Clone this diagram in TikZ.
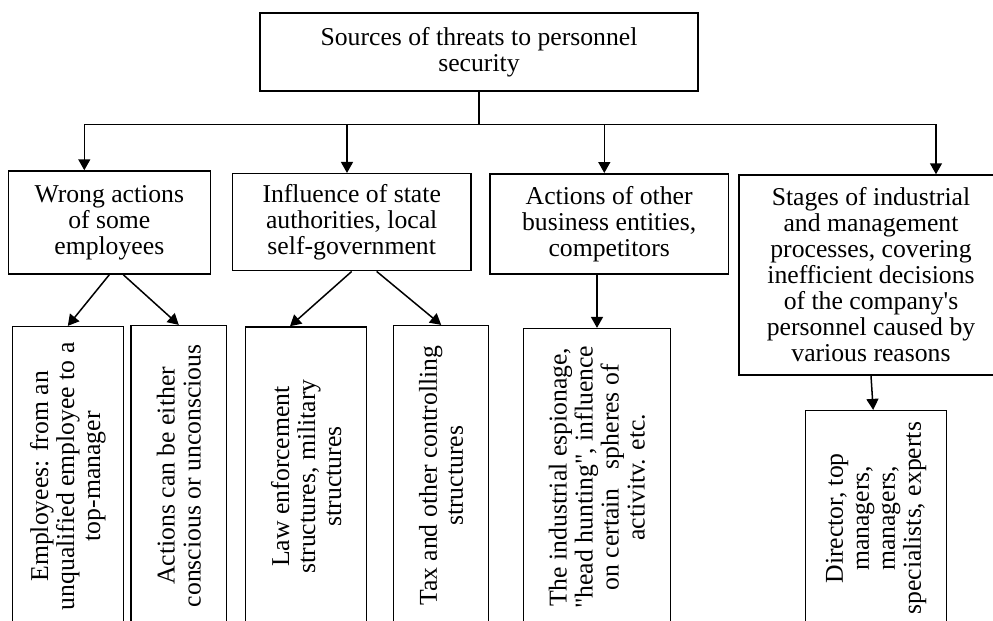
\documentclass[tikz,border=0pt]{standalone}
\usepackage{fontspec}
\setmainfont{Liberation Serif}[Ligatures=TeXOff]
\usetikzlibrary{arrows.meta,positioning}

\begin{document}
\begin{tikzpicture}[x=0.5pt, y=-0.5pt, line width=0.75pt, >={Triangle[length=5.5pt,width=6pt]},
    box/.style={rectangle, draw, align=center, inner sep=0pt, font=\fontsize{12.85}{13}\selectfont},
    vbox/.style={box, rotate=90}]
            \useasboundingbox (0,0) rectangle (993,621);
            \clip (0,0) rectangle (993,621);

            \node[box, minimum width=219pt, minimum height=39pt] (src) at (479,52) {Sources of threats to personnel\\security};

            \node[box, minimum width=101pt, minimum height=51.5pt] (wrong) at (109.3,222.5) {Wrong actions\\of some\\employees};
            \node[box, minimum width=119.35pt, minimum height=48.5pt] (state) at (351.7,222.2) {Influence of state\\authorities, local\\self-government};
            \node[box, minimum width=119.15pt, minimum height=50.15pt] (rivals) at (609.2,223.9) {Actions of other\\business entities,\\competitors};
            \node[box, minimum width=131.85pt, minimum height=100pt] (stages) at (871,275) {Stages of industrial\\and management\\processes, covering\\inefficient decisions\\of the company's\\personnel caused by\\various reasons};

            \node[vbox, minimum width=149.65pt, minimum height=55.5pt] (staff) at (67.8,476.3) {Employees: from an\\unqualified employee to a\\top-manager};
            \node[vbox, minimum width=150.15pt, minimum height=47.85pt] (acts) at (178.8,475.8) {Actions can be either\\conscious or unconscious};
            \node[vbox, minimum width=149.5pt, minimum height=60.5pt] (law) at (306.2,476.5) {Law enforcement\\structures, military\\structures};
            \node[vbox, minimum width=150.15pt, minimum height=47.5pt] (tax) at (441.2,475.8) {Tax and other controlling\\structures};
            \node[vbox, minimum width=148.65pt, minimum height=73.3pt] (spy) at (597,477.3) {The industrial espionage,\\"head hunting", influence\\on certain\ \ \ spheres of\\activitv. etc.};
            \node[vbox, minimum width=107.65pt, minimum height=70.5pt] (heads) at (876.2,518.3) {Director, top\\managers,\\managers,\\specialists, experts};

            \coordinate (busA) at (84.3,124.3);
            \coordinate (busB) at (347,124.3);
            \coordinate (busC) at (604.3,124.3);
            \coordinate (busD) at (936,124.3);

            \draw (src.south) -- (src.south |- busA);
            \draw (busA) -- (busD);
            \draw[->] (busA) -- (busA |- wrong.north);
            \draw[->] (busB) -- (busB |- state.north);
            \draw[->] (busC) -- (busC |- rivals.north);
            \draw[->] (busD) -- (busD |- stages.north);

            \draw[->] (wrong.south) -- (staff.east);
            \draw[->] ([xshift=7pt]wrong.south) -- (acts.east);
            \draw[->] (state.south) -- ([xshift=-8.1pt]law.east);
            \draw[->] ([xshift=12.5pt]state.south) -- (tax.east);
            \draw[->] (spy.east |- rivals.south) -- (spy.east);
            \draw[->] (stages.south) -- ([xshift=-1.5pt]heads.east);
          \end{tikzpicture}
\end{document}
